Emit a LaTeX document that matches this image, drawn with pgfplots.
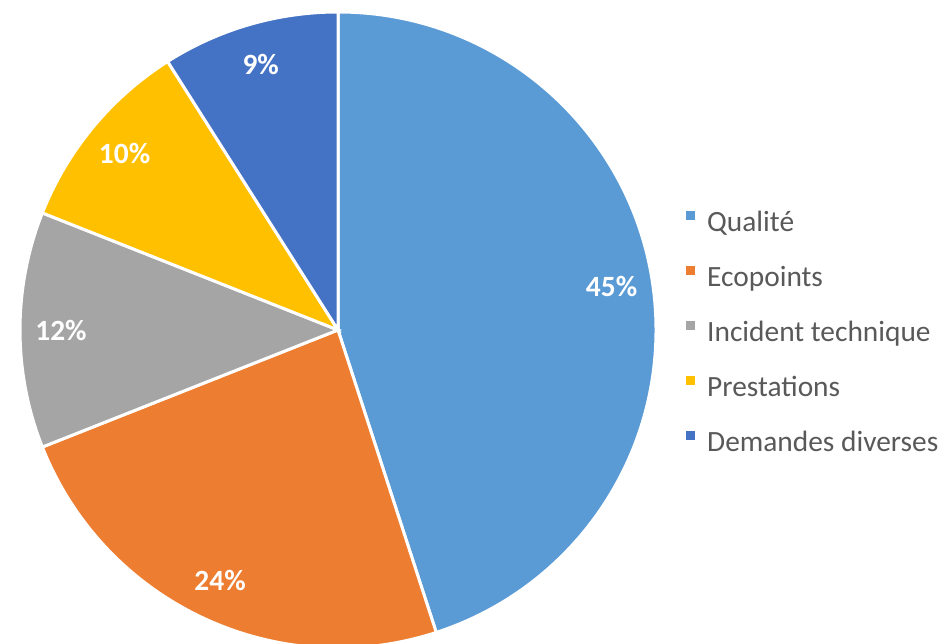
\documentclass[border=0pt]{standalone}
\usepackage{fontspec}
\setmainfont{Carlito}
\usepackage{pgfplots}
\usepackage{pgfplotstable}
\pgfplotsset{compat=1.18}

\definecolor{pie0}{HTML}{5B9BD5}
\definecolor{pie1}{HTML}{ED7D31}
\definecolor{pie2}{HTML}{A5A5A5}
\definecolor{pie3}{HTML}{FFC000}
\definecolor{pie4}{HTML}{4472C4}
\definecolor{legtext}{HTML}{595959}

\pgfplotstableread{
label value
Qualité 45
Ecopoints 24
{Incident technique} 12
Prestations 10
{Demandes diverses} 9
}\piedata

\tikzset{pielabel/.style={font=\bfseries\fontsize{29.5}{34}\selectfont, text=white}}

\begin{document}
\begin{tikzpicture}
\begin{axis}[
    hide axis,
    scale only axis,
    width=946bp, height=644bp,
    xmin=0, xmax=946, ymin=0, ymax=644,
    legend cell align=left,
    legend style={
        at={(axis cs:686,434)}, anchor=north west,
        draw=none, fill=none, inner sep=0pt,
        font=\fontsize{29.5}{34}\selectfont, text=legtext,
        nodes={inner sep=0pt, text height=21bp, text depth=6bp},
        row sep=28bp,
        /tikz/every odd column/.append style={column sep=12bp},
    },
    legend image code/.code={\fill[#1, draw=none] (0bp,4bp) rectangle (9bp,13bp);},
]
% pie slices, clockwise from the top
\def\acc{90}
\pgfplotsforeachungrouped \i in {0,...,4}{
    \pgfplotstablegetelem{\i}{value}\of\piedata
    \let\v\pgfplotsretval
    \pgfmathsetmacro\a{\acc}
    \pgfmathsetmacro\b{\acc-3.6*\v}
    \pgfmathsetmacro\m{(\a+\b)/2}
    \edef\cmd{%
      \noexpand\fill[fill=pie\i, draw=white, line width=3pt]
        (axis cs:338,314) -- ([shift={(\a:318bp)}]axis cs:338,314)
        arc[start angle=\a, end angle=\b, radius=318bp] -- cycle;
      \noexpand\node[pielabel] at ([shift={(\m:277bp)}]axis cs:338,314) {\v\noexpand\%};
    }
    \cmd
    \global\let\acc\b
}
\addlegendimage{fill=pie0}\addlegendentry{Qualité}
\addlegendimage{fill=pie1}\addlegendentry{Ecopoints}
\addlegendimage{fill=pie2}\addlegendentry{Incident technique}
\addlegendimage{fill=pie3}\addlegendentry{Prestations}
\addlegendimage{fill=pie4}\addlegendentry{Demandes diverses}
\end{axis}
\pgfresetboundingbox
\path (current axis.south west) rectangle (current axis.north east);
\end{tikzpicture}
\end{document}
